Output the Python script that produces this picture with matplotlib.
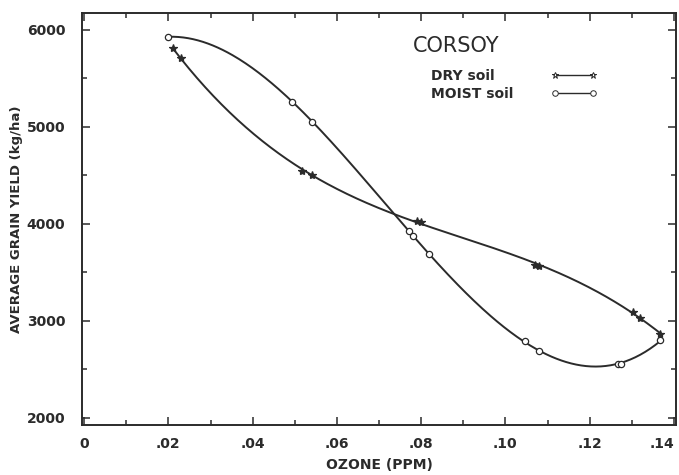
import numpy as np
import matplotlib
matplotlib.use('Agg')
import matplotlib.pyplot as plt
from matplotlib.ticker import MultipleLocator, FixedLocator

# readings: ozone (ppm) vs average grain yield (kg/ha)
dry_ozone = [0.021, 0.023, 0.0518, 0.054, 0.079, 0.080, 0.107, 0.108, 0.1302, 0.132, 0.1367]
dry_yield = [5810, 5710, 4550, 4500, 4030, 4015, 3580, 3570, 3095, 3035, 2865]

moist_ozone = [0.020, 0.0494, 0.0542, 0.077, 0.078, 0.0819, 0.1047, 0.108, 0.1268, 0.1275, 0.1367]
moist_yield = [5930, 5260, 5050, 3930, 3880, 3695, 2790, 2690, 2560, 2555, 2800]

x_ticks = [0, 0.02, 0.04, 0.06, 0.08, 0.10, 0.12, 0.14]
x_labels = ['0', '.02', '.04', '.06', '.08', '.10', '.12', '.14']
y_ticks = [2000, 3000, 4000, 5000, 6000]

ink = '#2b2b2b'
plt.rcParams['font.family'] = ['DejaVu Sans']

fig = plt.figure(figsize=(6.79, 4.75), dpi=100)
ax = fig.add_axes([0.1208, 0.1053, 0.8748, 0.8673])

series = [(dry_ozone, dry_yield, '*', 'DRY soil'),
          (moist_ozone, moist_yield, 'o', 'MOIST soil')]

# smooth curves: cubic fit through the plotted points
for xs, ys, mk, lab in series:
    coef = np.polyfit(xs, ys, 3)
    xx = np.linspace(min(xs), max(xs), 300)
    ax.plot(xx, np.polyval(coef, xx), color=ink, linewidth=1.4)
    ax.plot(xs, ys, linestyle='none', marker=mk, ms=6 if mk == '*' else 4.5,
            mfc='white' if mk == 'o' else ink, mec=ink, mew=0.9)

ax.set_xlim(-0.0005, 0.1405)
ax.set_ylim(1928, 6174)

ax.xaxis.set_major_locator(FixedLocator(x_ticks))
ax.set_xticklabels(x_labels)
ax.xaxis.set_minor_locator(MultipleLocator(0.01))
ax.yaxis.set_major_locator(FixedLocator(y_ticks))
ax.yaxis.set_minor_locator(MultipleLocator(500))

ax.tick_params(which='both', direction='in', top=True, right=True,
               color=ink, width=1.1, labelcolor=ink)
ax.tick_params(which='major', length=6, labelsize=10)
ax.tick_params(axis='x', which='major', pad=9)
ax.tick_params(axis='y', which='major', pad=12)
ax.tick_params(which='minor', length=3.5)
for lbl in ax.get_xticklabels() + ax.get_yticklabels():
    lbl.set_fontweight('bold')
ax.get_xticklabels()[-1].set_horizontalalignment('right')
for sp in ax.spines.values():
    sp.set_color(ink)
    sp.set_linewidth(1.4)

ax.set_xlabel('OZONE (PPM)', fontsize=10, fontweight='bold', color=ink, labelpad=5)
ax.set_ylabel('AVERAGE GRAIN YIELD (kg/ha)', fontsize=9.5, fontweight='bold',
              color=ink, labelpad=3)

# key, laid out like the original (label first, then marker-line-marker)
ax.text(0.557, 0.905, 'CORSOY', transform=ax.transAxes, fontsize=15,
        color=ink, ha='left', va='baseline')
key_y = [0.850, 0.806]
key_base = [0.837, 0.794]
for (xs, ys, mk, lab), ky, kb in zip(series, key_y, key_base):
    ax.text(0.588, kb, lab, transform=ax.transAxes, fontsize=10,
            fontweight='bold', color=ink, ha='left', va='baseline')
    ax.plot([0.796, 0.860], [ky, ky], transform=ax.transAxes, color=ink,
            linewidth=1.0, marker=mk, ms=5 if mk == '*' else 4,
            mfc='white', mec=ink, mew=0.7)

fig.savefig('out.png', dpi=100)
